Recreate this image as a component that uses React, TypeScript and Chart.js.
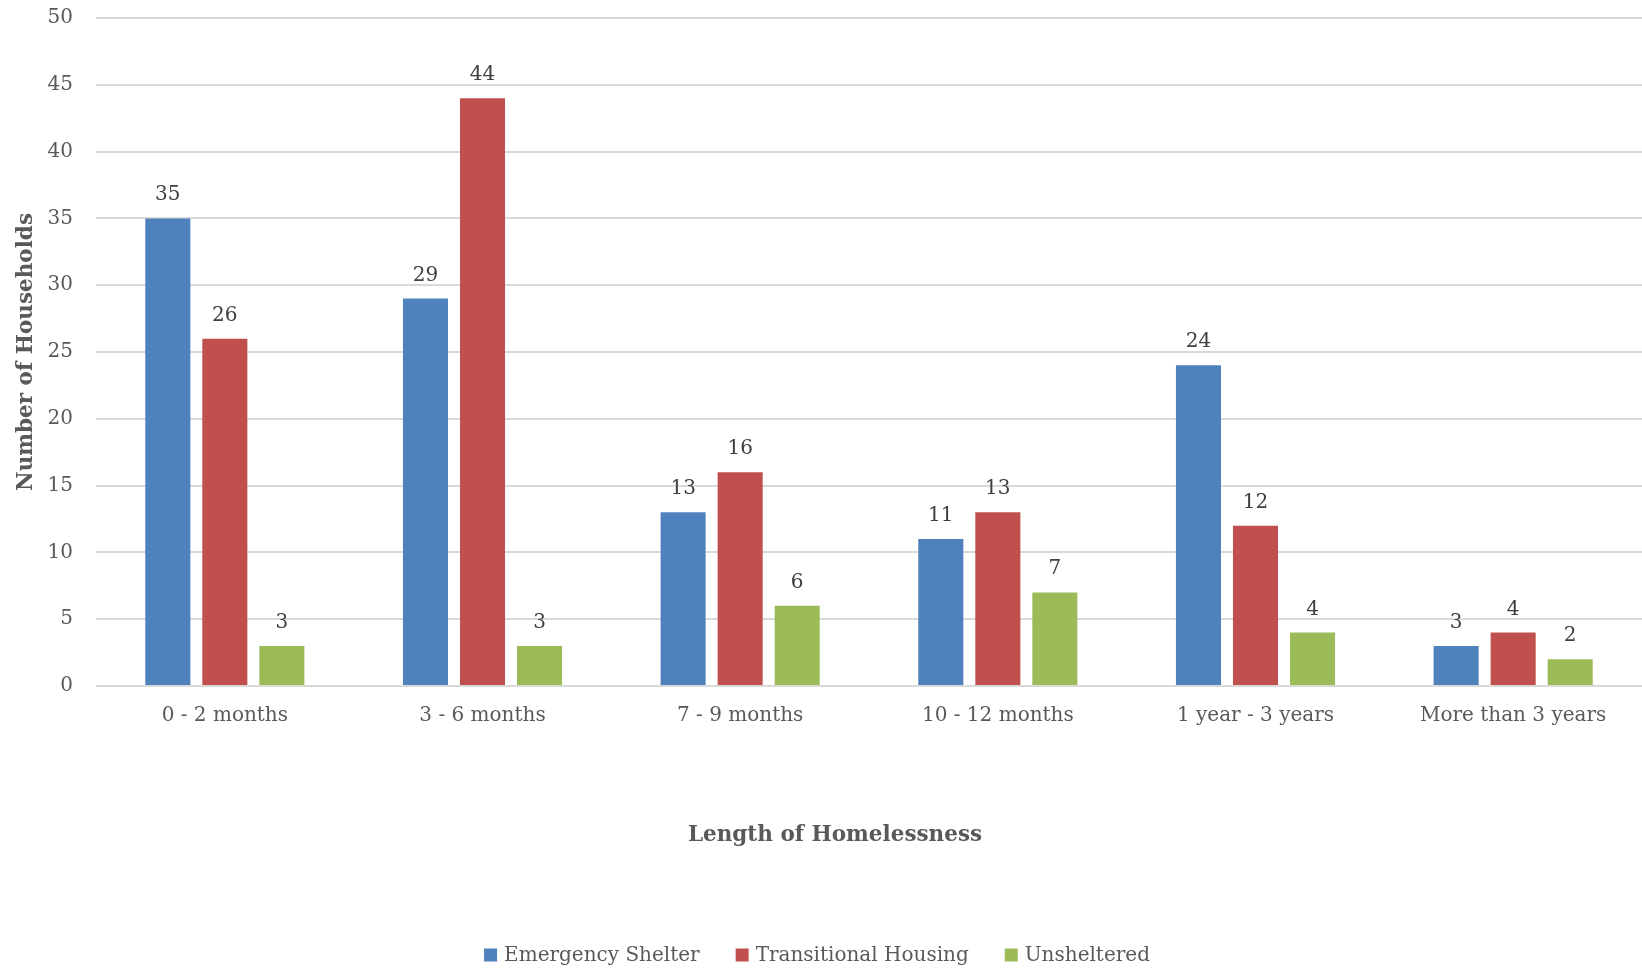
import React, { useEffect, useRef } from "react";
import { Chart, registerables } from "chart.js";

Chart.register(...registerables);

const categories = ["0 - 2 months", "3 - 6 months", "7 - 9 months", "10 - 12 months", "1 year - 3 years", "More than 3 years"];
const emergencyShelter = [35, 29, 13, 11, 24, 3];
const transitionalHousing = [26, 44, 16, 13, 12, 4];
const unsheltered = [3, 3, 6, 7, 4, 2];
const seriesNames = ["Emergency Shelter", "Transitional Housing", "Unsheltered"];
const seriesColors = ["#4F81BD", "#C0504D", "#9BBB59"];
const xTitle = "Length of Homelessness";
const yTitle = "Number of Households";

const FONT = "'DejaVu Serif', serif";

const valueLabels = {
  id: "valueLabels",
  afterDatasetsDraw(chart: any) {
    const ctx = chart.ctx;
    ctx.save();
    ctx.font = `20px ${FONT}`;
    ctx.fillStyle = "#404040";
    ctx.textAlign = "center";
    ctx.textBaseline = "alphabetic";
    chart.data.datasets.forEach((ds: any, i: number) => {
      const meta = chart.getDatasetMeta(i);
      meta.data.forEach((el: any, j: number) => {
        ctx.fillText(String(ds.data[j]), el.x, el.y - 18);
      });
    });
    ctx.restore();
  },
};

const customDecor = {
  id: "customDecor",
  afterDraw(chart: any) {
    const ctx = chart.ctx;
    const area = chart.chartArea;
    ctx.save();
    // x axis title
    ctx.font = `bold 21.5px ${FONT}`;
    ctx.fillStyle = "#595959";
    ctx.textAlign = "center";
    ctx.textBaseline = "middle";
    ctx.fillText(xTitle, (area.left + area.right) / 2 - 34, 835);

    // legend
    const boxW = 13;
    const boxH = 13;
    const boxGap = 7;
    const itemGap = 36;
    ctx.font = `20px ${FONT}`;
    const widths = seriesNames.map((n) => ctx.measureText(n).width);
    const total = widths.reduce((a, w) => a + boxW + boxGap + w, 0) + itemGap * (seriesNames.length - 1);
    let x = 817 - total / 2;
    const cy = 955;
    seriesNames.forEach((n, i) => {
      ctx.fillStyle = seriesColors[i];
      ctx.fillRect(x, cy - boxH / 2, boxW, boxH);
      x += boxW + boxGap;
      ctx.fillStyle = "#595959";
      ctx.textAlign = "left";
      ctx.textBaseline = "middle";
      ctx.fillText(n, x, cy + 1);
      x += widths[i] + itemGap;
    });
    ctx.restore();
  },
};

export default function App() {
  const ref = useRef<HTMLCanvasElement | null>(null);
  useEffect(() => {
    if (!ref.current) return;
    const chart = new Chart(ref.current, {
      type: "bar",
      data: {
        labels: categories,
        datasets: [
          { label: seriesNames[0], data: emergencyShelter, backgroundColor: seriesColors[0] },
          { label: seriesNames[1], data: transitionalHousing, backgroundColor: seriesColors[1] },
          { label: seriesNames[2], data: unsheltered, backgroundColor: seriesColors[2] },
        ],
      },
      options: {
        animation: false,
        responsive: true,
        maintainAspectRatio: false,
        layout: { padding: { top: 18, left: 0, right: 0, bottom: 243 } },
        datasets: { bar: { categoryPercentage: 0.664, barPercentage: 0.79 } },
        plugins: {
          legend: { display: false },
          tooltip: { enabled: false },
        },
        scales: {
          x: {
            grid: { display: false, drawTicks: false },
            border: { display: false },
            ticks: { color: "#595959", font: { family: FONT, size: 20 }, padding: 18, maxRotation: 0, autoSkip: false },
            afterFit: (scale: any) => {
              scale.height = 42;
              scale.paddingLeft = 0;
              scale.paddingRight = 0;
            },
          },
          y: {
            min: 0,
            max: 50,
            grid: { color: "#D9D9D9", lineWidth: 2, drawTicks: false },
            border: { display: false },
            ticks: { stepSize: 5, color: "#595959", font: { family: FONT, size: 20 }, padding: 23 },
            title: {
              display: true,
              text: yTitle,
              color: "#595959",
              font: { family: FONT, size: 21.5, weight: "bold" },
              padding: { top: 14, bottom: 10 },
            },
            afterFit: (scale: any) => {
              scale.width = 96;
              scale.paddingTop = 0;
              scale.paddingBottom = 0;
            },
          },
        },
      },
      plugins: [valueLabels, customDecor],
    });
    return () => chart.destroy();
  }, []);
  return (
    <div style={{ position: "fixed", left: 0, top: 0, width: 1642, height: 971, background: "#fff" }}>
      <canvas ref={ref} />
    </div>
  );
}
